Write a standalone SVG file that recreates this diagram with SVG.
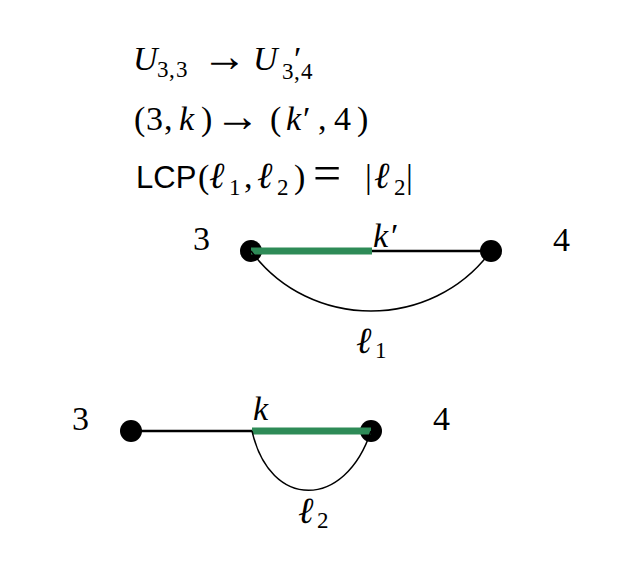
<svg xmlns="http://www.w3.org/2000/svg" width="622" height="568" viewBox="0 0 622 568">
<style>
.m{font-family:"Liberation Serif","DejaVu Serif",serif;font-size:34px;fill:#000}
.i{font-style:italic}
.l{font-style:italic;font-size:37px}
.s{font-size:23px}
.op{font-size:45px;font-style:normal}
.eq{font-size:50px;font-style:normal}
.sf{font-family:"Liberation Sans",Arial,sans-serif;font-size:31px;fill:#000}
.edge{fill:none;stroke:#000;stroke-width:2.5}
.hl{fill:none;stroke:#2e8b57;stroke-width:7}
.curve{fill:none;stroke:#000;stroke-width:1.5}
.node{fill:#000}
</style>
<rect width="622" height="568" fill="#fff"/>
<g id="formula">
<text class="m"><tspan class="i" x="133" y="70">U</tspan><tspan class="s" x="157" y="77">3</tspan><tspan class="s" x="169" y="77">,</tspan><tspan class="s" x="176" y="77">3</tspan><tspan class="op" x="202" y="71">→</tspan><tspan class="i" x="253" y="70">U</tspan><tspan x="294" y="70">′</tspan><tspan class="s" x="282" y="79">3</tspan><tspan class="s" x="294" y="79">,</tspan><tspan class="s" x="301" y="79">4</tspan></text>
<text class="m"><tspan x="134" y="130">(</tspan><tspan x="146" y="130">3</tspan><tspan x="164" y="130">,</tspan><tspan class="i" x="179" y="130">k</tspan><tspan x="201" y="130">)</tspan><tspan class="op" x="215" y="131">→</tspan><tspan x="270" y="130">(</tspan><tspan class="i" x="286" y="130">k</tspan><tspan x="303" y="130">′</tspan><tspan x="318" y="130">,</tspan><tspan x="334" y="130">4</tspan><tspan x="357" y="130">)</tspan></text>
<text class="sf" x="136" y="188">LCP</text>
<text class="m"><tspan x="198" y="188">(</tspan><tspan class="l" x="209" y="188">ℓ</tspan><tspan class="s" x="229" y="195">1</tspan><tspan x="244" y="188">,</tspan><tspan class="l" x="257" y="188">ℓ</tspan><tspan class="s" x="277" y="195">2</tspan><tspan x="294" y="188">)</tspan><tspan class="eq" x="313" y="190">=</tspan><tspan x="365" y="188">|</tspan><tspan class="l" x="374" y="188">ℓ</tspan><tspan class="s" x="394" y="195">2</tspan><tspan x="406" y="188">|</tspan></text>
</g>
<g id="node-top-3"><circle class="node" cx="251" cy="251" r="11"/><text class="m" x="193" y="250">3</text></g>
<g id="node-top-4"><circle class="node" cx="491" cy="251" r="11"/><text class="m" x="553" y="251">4</text></g>
<g id="node-bot-3"><circle class="node" cx="131" cy="431" r="11"/><text class="m" x="72" y="430">3</text></g>
<g id="node-bot-4"><circle class="node" cx="371" cy="431" r="11"/><text class="m" x="433" y="430">4</text></g>
<g id="connectors">
<line class="edge" x1="251" y1="251" x2="491" y2="251"/>
<line class="hl" x1="251" y1="251" x2="372" y2="251"/>
<path class="curve" d="M251,251 C310,331 432,331 491,251"/>
<line class="edge" x1="131" y1="431" x2="252" y2="431"/>
<line class="hl" x1="252" y1="431" x2="371" y2="431"/>
<path class="curve" d="M252,431 C270,510 345,510 371,431"/>
</g>
<g id="labels">
<text class="m"><tspan class="i" x="373" y="247">k</tspan><tspan x="391" y="247">′</tspan></text>
<text class="m i" x="253" y="420">k</text>
<text class="m"><tspan class="l" x="356" y="353">ℓ</tspan><tspan class="s" x="375" y="358">1</tspan></text>
<text class="m"><tspan class="l" x="298" y="523">ℓ</tspan><tspan class="s" x="317" y="528">2</tspan></text>
</g>
</svg>
